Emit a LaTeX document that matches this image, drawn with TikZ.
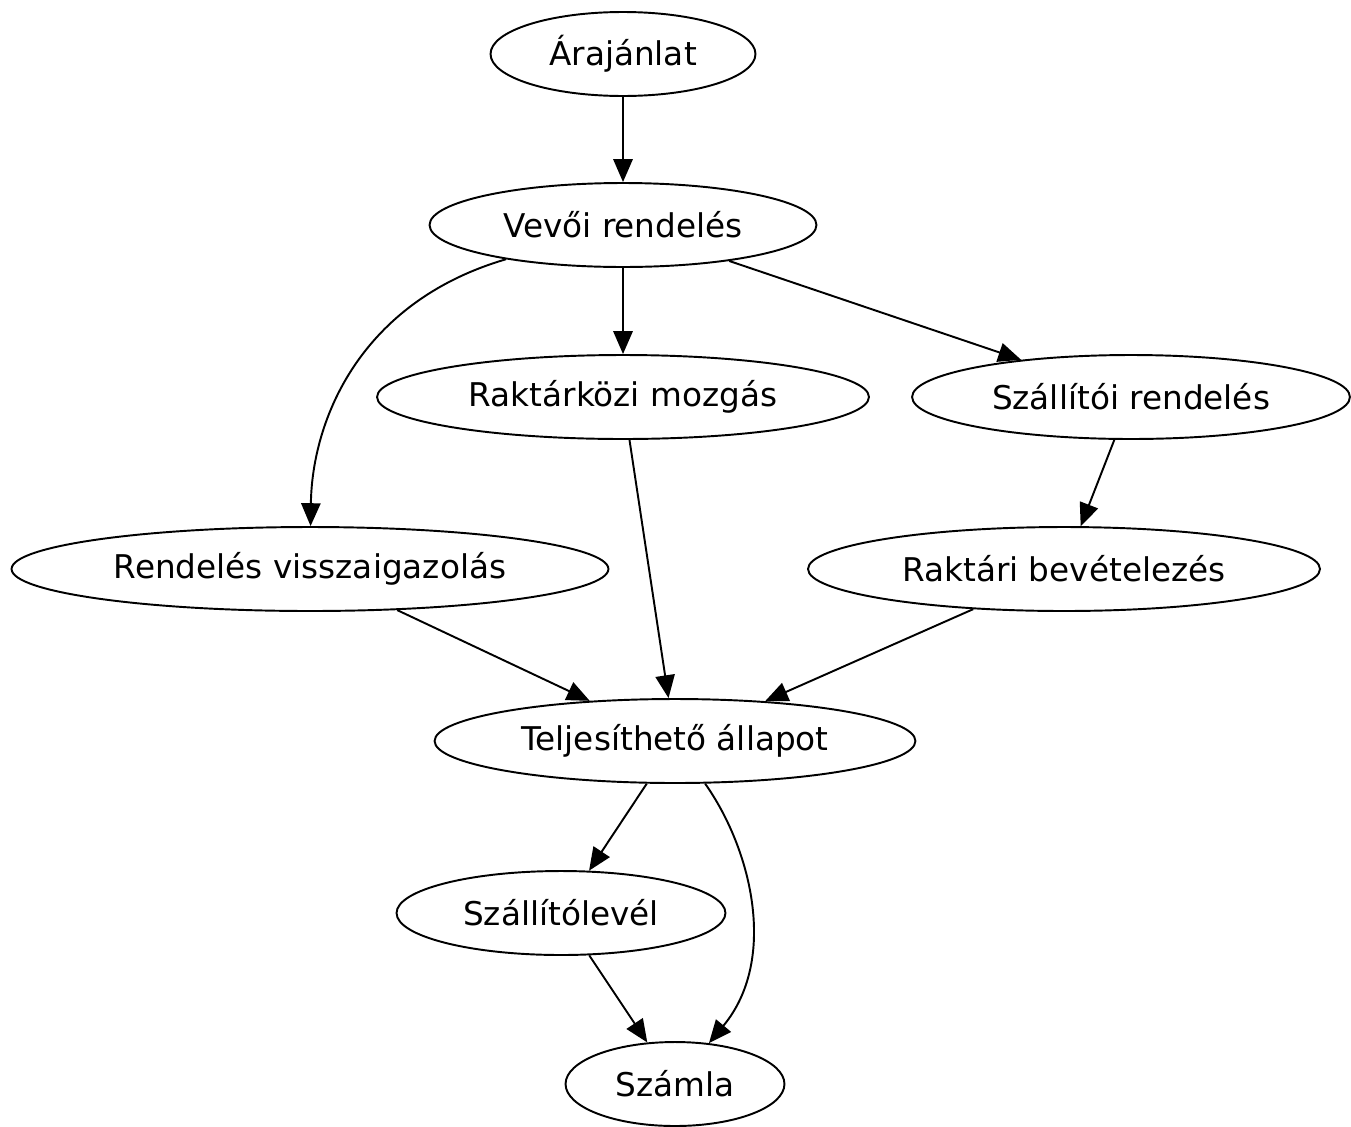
\documentclass[tikz,border=0pt]{standalone}
\usepackage{fontspec}
\setmainfont{DejaVu Sans}
\usetikzlibrary{arrows.meta,shapes.geometric}
\tikzstyle{en}=[ellipse,draw=black,line width=1.1pt,inner sep=0pt,
  minimum height=47.8pt,font=\fontsize{18.6}{22}\selectfont]
\tikzstyle{ar}=[line width=1.1pt,-{Triangle[length=13pt,width=11pt]}]

\begin{document}
\begin{tikzpicture}[x=0.02cm, y=-0.02cm]
            \useasboundingbox (0, 0) rectangle (1351, 1126);
            \node [style=en, minimum width=150.8pt] (0) at (623, 54) {Árajánlat};
            \node [style=en, minimum width=220.2pt] (1) at (623, 225) {Vevői rendelés};
            \node [style=en, minimum width=280pt] (2) at (623, 397) {Raktárközi mozgás};
            \node [style=en, minimum width=249.2pt] (3) at (1131, 397) {Szállítói rendelés};
            \node [style=en, minimum width=339.7pt] (4) at (310, 569) {Rendelés visszaigazolás};
            \node [style=en, minimum width=291.4pt] (5) at (1064, 569) {Raktári bevételezés};
            \node [style=en, minimum width=273.7pt] (6) at (675, 741) {Teljesíthető állapot};
            \node [style=en, minimum width=187.2pt] (7) at (561, 913) {Szállítólevél};
            \node [style=en, minimum width=124.6pt] (8) at (675, 1084) {Számla};
            \draw [style=ar] (0) to (1);
            \draw [style=ar] (1) to (2);
            \draw [style=ar] (1) to (3);
            \draw [style=ar] (1) .. controls (360, 302) and (312, 420) .. (4);
            \draw [style=ar] (2) to (6);
            \draw [style=ar] (3) to (5);
            \draw [style=ar] (4) to (6);
            \draw [style=ar] (5) to (6);
            \draw [style=ar] (6) to (7);
            \draw [style=ar] (6) .. controls (752, 850) and (778, 960) .. (8);
            \draw [style=ar] (7) to (8);
    \end{tikzpicture}
\end{document}
